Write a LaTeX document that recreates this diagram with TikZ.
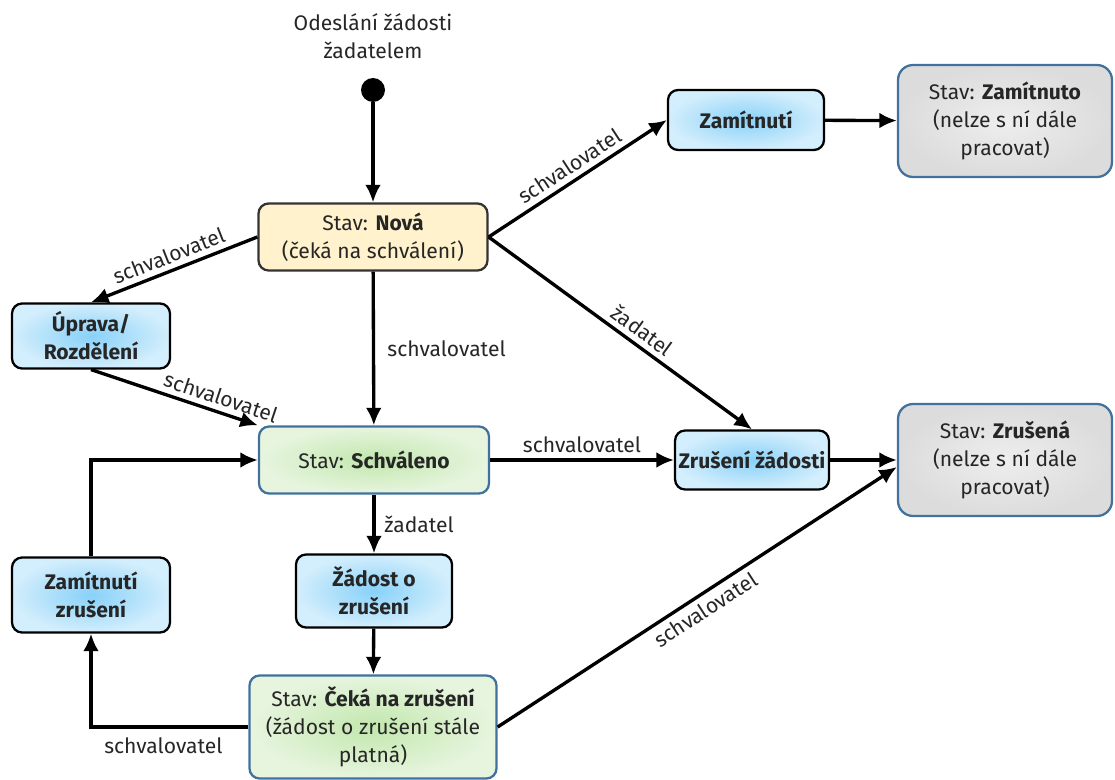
\documentclass[tikz,border=0pt]{standalone}
\usepackage{fontspec}
\setmainfont{Fira Sans}
\usetikzlibrary{arrows.meta}

\definecolor{novafill}{HTML}{FFF2CC}
\definecolor{stateline}{HTML}{41719C}
\definecolor{blueinner}{HTML}{88D1F9}
\definecolor{blueouter}{HTML}{D3EEFC}
\definecolor{greeninner}{HTML}{C2E7AD}
\definecolor{greenouter}{HTML}{E7F5DF}
\definecolor{grayinner}{HTML}{EEEEEE}
\definecolor{grayouter}{HTML}{DCDCDC}
\definecolor{textgray}{HTML}{262626}

\begin{document}
\begin{tikzpicture}[x=0.02cm, y=-0.02cm, font=\fontsize{12pt}{16pt}\selectfont, text=textgray]
			\tikzstyle{box} = [rectangle, rounded corners=0.2cm, align=center, inner sep=2pt, line width=1.3pt];
			\tikzstyle{action} = [box, draw=black, shading=radial, inner color=blueinner, outer color=blueouter, font=\fontsize{12pt}{16pt}\selectfont\bfseries];
			\tikzstyle{state} = [box, draw=stateline, shading=radial, inner color=greeninner, outer color=greenouter];
			\tikzstyle{final} = [box, draw=stateline, rounded corners=0.3cm, shading=radial, inner color=grayinner, outer color=grayouter, minimum width=4.28cm, minimum height=2.24cm];
			\tikzstyle{flow} = [line width=1.9pt, ->, >={Latex[length=10pt,width=9pt]}];
			\tikzstyle{lbl} = [font=\fontsize{12pt}{14pt}\selectfont, inner sep=3pt];
			\useasboundingbox (0,0) rectangle (1115,780);
			% start
			\node (starttext) [align=center] at (373,36) {Odeslání žádosti\\žadatelem};
			\node (start) [circle, fill=black, inner sep=0pt, minimum size=0.48cm] at (373,90) {};
			% states and actions
			\node (nova) [box, draw=black!80, fill=novafill, minimum width=4.58cm, minimum height=1.34cm] at (373,237) {Stav: \textbf{Nová}\\(čeká na schválení)};
			\node (uprava) [action, minimum width=3.16cm, minimum height=1.3cm] at (91,336) {Úprava/\\Rozdělení};
			\node (schvaleno) [state, minimum width=4.6cm, minimum height=1.34cm] at (374,460) {Stav: \textbf{Schváleno}};
			\node (zamitnuti) [action, minimum width=3.12cm, minimum height=1.2cm] at (746,120) {Zamítnutí};
			\node (zamitnuto) [final] at (1005,121) {Stav: \textbf{Zamítnuto}\\(nelze s ní dále\\pracovat)};
			\node (zruseni) [action, minimum width=3.06cm, minimum height=1.18cm] at (752,460) {Zrušení žádosti};
			\node (zrusena) [final] at (1005,460) {Stav: \textbf{Zrušená}\\(nelze s ní dále\\pracovat)};
			\node (zamzruseni) [action, minimum width=3.16cm, minimum height=1.5cm] at (91,595) {Zamítnutí\\zrušení};
			\node (zadost) [action, minimum width=3.12cm, minimum height=1.46cm] at (374,591) {Žádost o\\zrušení};
			\node (ceka) [state, minimum width=4.94cm, minimum height=2.06cm] at (373,727) {Stav: \textbf{Čeká na zrušení}\\(žádost o zrušení stále\\platná)};
			% transitions
			\draw [flow] (start) -- (nova);
			\draw [flow] (nova.west) -- node [lbl, midway, above, sloped] {schvalovatel} (uprava.north);
			\draw [flow] (uprava.south) -- node [lbl, pos=0.75, above, sloped] {schvalovatel} (schvaleno.north west);
			\draw [flow] (nova) -- node [lbl, midway, right, xshift=4pt] {schvalovatel} (schvaleno);
			\draw [flow] (nova.east) -- node [lbl, midway, above, sloped] {schvalovatel} (zamitnuti.west);
			\draw [flow] (nova.east) -- node [lbl, pos=0.55, above, sloped] {žadatel} (zruseni.north);
			\draw [flow] (zamitnuti) -- (zamitnuto);
			\draw [flow] (schvaleno) -- node [lbl, midway, above] {schvalovatel} (zruseni);
			\draw [flow] (zruseni) -- (zrusena);
			\draw [flow] (schvaleno) -- node [lbl, midway, right, xshift=2pt] {žadatel} (zadost);
			\draw [flow] (zadost) -- (ceka);
			\draw [flow] (ceka.west) -| node [lbl, pos=0.27, below, yshift=-2pt] {schvalovatel} (zamzruseni.south);
			\draw [flow] (zamzruseni.north) |- (schvaleno.west);
			\draw [flow] (ceka.east) -- node [lbl, midway, below, sloped] {schvalovatel} ([yshift=-0.14cm]zrusena.west);
		\end{tikzpicture}
\end{document}
